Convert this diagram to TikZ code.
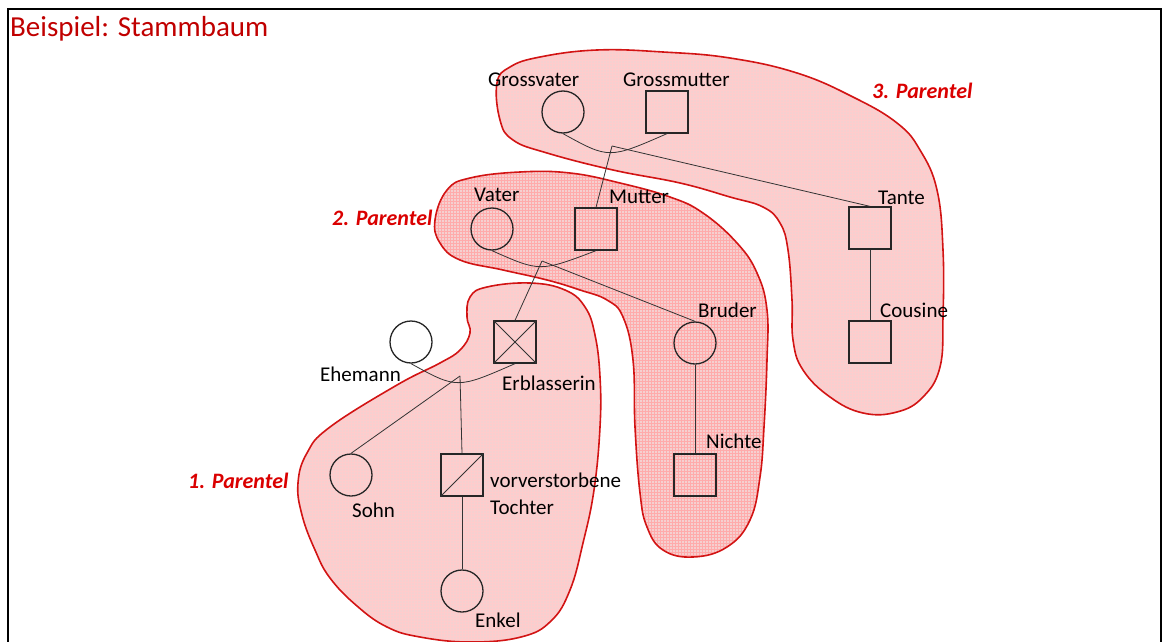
\documentclass[tikz,border=0pt]{standalone}
\usepackage{fontspec}
\setmainfont{Carlito}
\usepackage{xcolor}
\usetikzlibrary{patterns,positioning}
\definecolor{titlered}{RGB}{192,0,0}
\definecolor{labelred}{RGB}{218,0,0}
\definecolor{blobline}{RGB}{210,20,20}
\definecolor{blobfill}{RGB}{245,208,208}

\begin{document}
\begin{tikzpicture}[x=1pt, y=-1pt,
        person/.style={draw, circle, minimum size=42pt, inner sep=0pt, line width=1.3pt, black!85},
        square/.style={draw, rectangle, minimum size=42pt, inner sep=0pt, line width=1.3pt, black!85},
        link/.style={draw, line width=0.8pt, black!80},
        lbl/.style={font=\fontsize{21}{27}\selectfont, inner sep=0pt, anchor=base west},
        parentel/.style={font=\fontsize{22}{27}\selectfont\bfseries\itshape, text=labelred, inner sep=0pt, anchor=base west},
        blob/.style={draw=blobline, line width=1.6pt, preaction={fill=blobfill}, pattern=grid, pattern color=red!20},
        blobdark/.style={blob, pattern color=red!33}
    ]
    \useasboundingbox (0,0) rectangle (1167,642);
    \draw[line width=2pt] (8,660) -- (8,9) -- (1161,9) -- (1161,660);

    \draw[blob] plot[smooth cycle, tension=0.7] coordinates {(497,83) (510,67) (540,57) (597,50) (663,52) (730,58) (797,73) (853,97) (897,123) (920,150) (937,190) (943,250) (943,317) (940,367) (923,397) (897,412) (863,413) (830,397) (803,370) (793,340) (792,300) (788,250) (780,223) (763,207) (730,197) (680,183) (613,170) (547,153) (513,140) (500,120)};
    \draw[blobdark] plot[smooth cycle, tension=0.7] coordinates {(435,220) (447,190) (470,178) (520,172) (570,173) (620,183) (670,197) (703,213) (737,243) (757,273) (767,310) (767,360) (764,427) (760,477) (750,520) (727,547) (693,557) (663,550) (647,527) (640,493) (635,427) (633,360) (623,317) (607,300) (580,290) (547,280) (503,270) (460,260) (440,243)};
    \draw[blob] plot[smooth cycle, tension=0.7] coordinates {(530,283) (565,290) (585,307) (595,335) (600,377) (600,427) (594,490) (583,543) (570,590) (551,621) (521,637) (470,642) (420,637) (387,627) (357,606) (330,578) (315,550) (302,515) (298,483) (307,453) (330,427) (397,385) (440,363) (460,350) (470,333) (467,317) (470,297) (487,287)};

    \node[lbl, text=titlered, font=\fontsize{29}{32}\selectfont] (title) at (10,37) {Beispiel: Stammbaum};

    \node[person] (gv) at (563,112) {};
    \node[square] (gm) at (667,112) {};
    \node[person] (vater) at (492,229) {};
    \node[square] (mutter) at (596,229) {};
    \node[person] (ehemann) at (411,342) {};
    \node[square] (erb) at (515,342) {};
    \node[person] (sohn) at (351,475) {};
    \node[square] (tochter) at (462,475) {};
    \node[person] (enkel) at (462,591) {};
    \node[person] (bruder) at (695,343) {};
    \node[square] (nichte) at (695,475) {};
    \node[square] (tante) at (870,228) {};
    \node[square] (cousine) at (870,342) {};

    \coordinate (p3) at (612,146);
    \coordinate (p2) at (542,261);
    \coordinate (p1) at (460,376);

    \draw[link] (gv.south) .. controls (609,159) .. (gm.south);
    \draw[link] (vater.south) .. controls (540,272) .. (mutter.south);
    \draw[link] (ehemann.south) .. controls (457,389) .. (erb.south);
    \draw[link] (p3) -- (mutter.north);
    \draw[link] (p3) -- (tante.north);
    \draw[link] (p2) -- (erb.north);
    \draw[link] (p2) -- (bruder.north);
    \draw[link] (p1) -- (sohn.north);
    \draw[link] (p1) -- (tochter.north);
    \draw[link] (tochter.south) -- (enkel.north);
    \draw[link] (bruder.south) -- (nichte.north);
    \draw[link] (tante.south) -- (cousine.north);
    \draw[link] (erb.north west) -- (erb.south east) (erb.north east) -- (erb.south west);
    \draw[link] (tochter.south west) -- (tochter.north east);

    \node[lbl] (gvlab) at (488,86) {Grossvater};
    \node[lbl] (gmlab) at (623,86) {Grossmutter};
    \node[lbl] (vaterlab) at (474,201) {Vater};
    \node[lbl] (mutterlab) at (609,203) {Mutter};
    \node[lbl] (ehemannlab) at (320,381) {Ehemann};
    \node[lbl] (erblab) at (502,390) {Erblasserin};
    \node[lbl] (sohnlab) at (352,517) {Sohn};
    \node[lbl, anchor=north west, align=left] (tochterlab) at (490,473) {vorverstorbene\\Tochter};
    \node[lbl] (enkellab) at (475,627) {Enkel};
    \node[lbl] (bruderlab) at (698,317) {Bruder};
    \node[lbl] (nichtelab) at (706,448) {Nichte};
    \node[lbl] (tantelab) at (878,204) {Tante};
    \node[lbl] (cousinelab) at (880,317) {Cousine};

    \node[parentel] (par1) at (188,488) {1. Parentel};
    \node[parentel] (par2) at (332,225) {2. Parentel};
    \node[parentel] (par3) at (872,98) {3. Parentel};
\end{tikzpicture}
\end{document}
